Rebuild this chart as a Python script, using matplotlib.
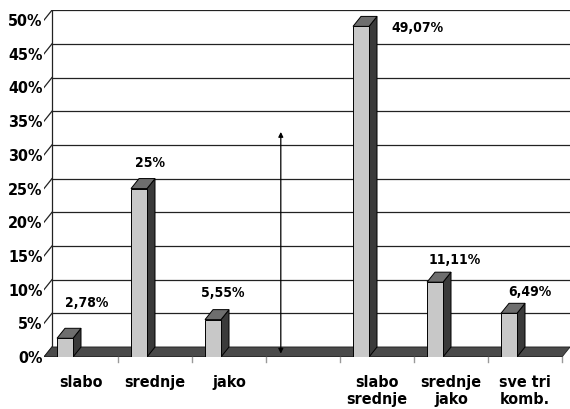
import numpy as np
import matplotlib
matplotlib.use("Agg")
import matplotlib.pyplot as plt
from matplotlib.patches import Polygon, Rectangle

plt.rcParams["font.family"] = ["DejaVu Sans"]
plt.rcParams["font.weight"] = "bold"
plt.rcParams["font.stretch"] = "condensed"

# data
categories = ["slabo", "srednje", "jako", "", "slabo\nsrednje", "srednje\njako", "sve tri\nkomb."]
values = [2.78, 25, 5.55, np.nan, 49.07, 11.11, 6.49]
value_labels = ["2,78%", "25%", "5,55%", "", "49,07%", "11,11%", "6,49%"]
label_pos = [(0.08, 8.0), (0.93, 28.8), (1.92, 9.5), None, (4.55, 48.8), (5.05, 14.4), (6.07, 9.6)]
yticks = np.arange(0, 51, 5)

# 3d look
DX = 0.108
DY = 1.48
BAR_W = 0.216
XMIN, XMAX = -0.5, 6.5 + DX

fig = plt.figure(figsize=(5.7, 4.09), dpi=100)
ax = fig.add_axes([44 / 570, 52 / 409, 526 / 570, 347 / 409])
ax.set_xlim(XMIN, XMAX)
ax.set_ylim(0, 50 + DY + 0.02)
for s in ax.spines.values():
    s.set_visible(False)

# back wall gridlines + left wall
for v in yticks:
    ax.plot([XMIN + DX, XMAX], [v + DY, v + DY], color="#222222", lw=0.9, zorder=1)
    ax.plot([XMIN, XMIN + DX], [v, v + DY], color="#222222", lw=0.9, zorder=1)
ax.plot([XMIN + DX, XMIN + DX], [DY, 50 + DY], color="#222222", lw=0.9, zorder=1)

# floor
ax.add_patch(Polygon([(XMIN, 0), (6.5, 0), (6.5 + DX, DY), (XMIN + DX, DY)],
                     closed=True, facecolor="#4a4a4a", edgecolor="#222222", lw=0.6, zorder=2))
ax.plot([XMIN, 6.5], [0, 0], color="black", lw=1.0, zorder=3)
for b in np.arange(0.5, 7, 1):
    ax.plot([b, b], [0, -0.7], color="#999999", lw=1.0, clip_on=False, zorder=3)

# bars
for i, v in enumerate(values):
    if np.isnan(v):
        continue
    left = i - 0.324
    right = left + BAR_W
    ax.add_patch(Polygon([(right, 0), (right + DX, DY), (right + DX, v + DY), (right, v)],
                         closed=True, facecolor="#3a3a3a", edgecolor="black", lw=0.7, zorder=4))
    ax.add_patch(Polygon([(left, v), (left + DX, v + DY), (right + DX, v + DY), (right, v)],
                         closed=True, facecolor="#6e6e6e", edgecolor="black", lw=0.7, zorder=4))
    ax.add_patch(Rectangle((left, 0), BAR_W, v, facecolor="#c8c8c8",
                           edgecolor="black", lw=0.7, zorder=5))
    ax.text(label_pos[i][0], label_pos[i][1], value_labels[i], ha="center", va="center",
            fontsize=10, fontweight="bold", zorder=6)

# arrow in the empty slot
ax.annotate("", xy=(2.70, 33.4), xytext=(2.70, 0.5),
            arrowprops=dict(arrowstyle="<|-|>", color="black", lw=0.9,
                            mutation_scale=7, shrinkA=0, shrinkB=0), zorder=6)

ax.set_yticks(yticks)
ax.set_yticklabels([f"{v}%" for v in yticks], fontsize=11.5, fontweight="bold")
ax.tick_params(axis="y", length=0, pad=1)
ax.set_xticks(range(len(categories)))
ax.set_xticklabels(categories, fontsize=11.5, fontweight="bold", linespacing=1.2)
ax.tick_params(axis="x", length=0, pad=13)

fig.savefig("out.png", dpi=100)
